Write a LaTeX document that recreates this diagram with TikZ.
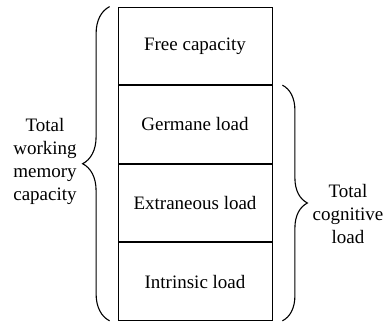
\documentclass[tikz,border=0pt]{standalone}
\usepackage{fontspec}
\setmainfont{Liberation Serif}
\usetikzlibrary{positioning,decorations.pathreplacing}

\begin{document}
\begin{tikzpicture}[x=1pt, y=1pt, node distance=0pt, every node/.style={font=\rmfamily\fontsize{19}{23}\selectfont, inner sep=0pt}]
            \useasboundingbox (0,0) rectangle (384,322);
            \node[draw, line width=0.8pt, minimum width=154pt, minimum height=77.75pt] (free) at (195,276.1) {Free capacity};
            \node[draw, line width=0.8pt, minimum width=154pt, minimum height=77.75pt, below=of free] (germane) {Germane load};
            \node[draw, line width=0.8pt, minimum width=154pt, minimum height=77.75pt, below=of germane] (extra) {Extraneous load};
            \node[draw, line width=0.8pt, minimum width=154pt, minimum height=77.75pt, below=of extra] (intr) {Intrinsic load};
            \node[align=center] (wmc) at (45,161) {Total\\working\\memory\\capacity};
            \node[align=center] (tcl) at (348,108) {Total\\cognitive\\load};
            \draw[line width=1.1pt, decorate, decoration={brace, amplitude=27pt}] ([xshift=-8pt]intr.south west) -- ([xshift=-8pt]free.north west);
            \draw[line width=1.1pt, decorate, decoration={brace, amplitude=25pt}] ([xshift=10pt]germane.north east) -- ([xshift=10pt]intr.south east);
        \end{tikzpicture}
\end{document}
